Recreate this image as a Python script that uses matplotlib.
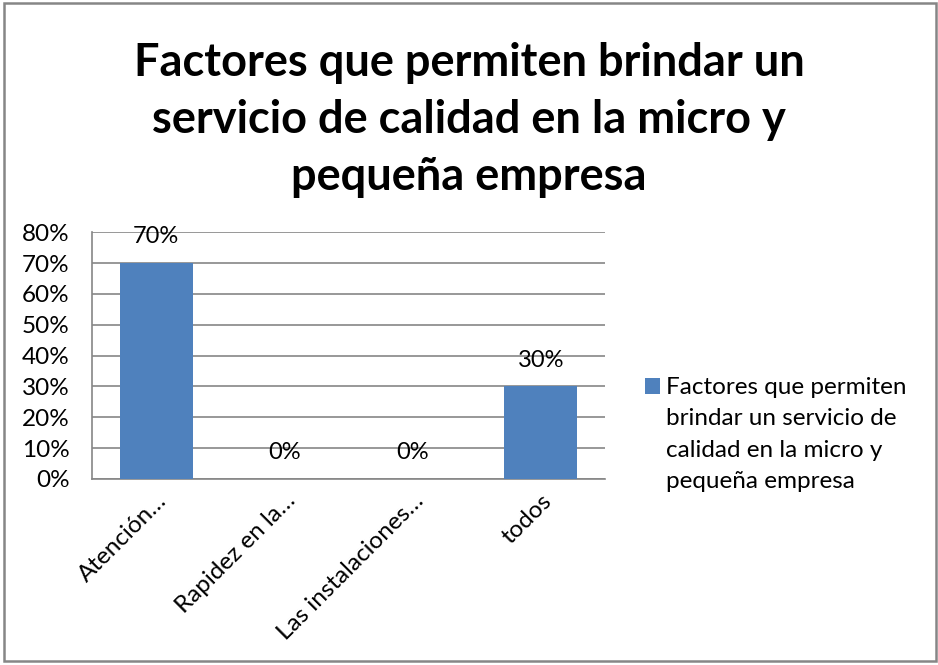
import matplotlib
matplotlib.use("Agg")
import matplotlib.pyplot as plt
from matplotlib.patches import Rectangle
from matplotlib.legend_handler import HandlerPatch

categories = ["Atención…", "Rapidez en la…", "Las instalaciones…", "todos"]
values = [70, 0, 0, 30]
yticks = [0, 10, 20, 30, 40, 50, 60, 70, 80]
series_name = "Factores que permiten\nbrindar un servicio de\ncalidad en la micro y\npequeña empresa"
title = "Factores que permiten brindar un\nservicio de calidad en la micro y\npequeña empresa"

plt.rcParams["font.family"] = ["Lato", "DejaVu Sans"]

fig = plt.figure(figsize=(9.38, 6.65), dpi=100)
ax = fig.add_axes([0.098, 0.2797, 0.547, 0.371])

x = range(len(categories))
bars = ax.bar(x, values, width=0.57, color="#4F81BD", zorder=3)
for xi, v in zip(x, values):
    ax.annotate(f"{v}%", (xi, v), xytext=(0, 19), textcoords="offset points",
                ha="center", va="center", fontsize=17, zorder=4)

ax.set_xlim(-0.5, 3.5)
ax.set_ylim(0, 80)
ax.set_yticks(yticks)
ax.set_yticklabels([f"{t}%" for t in yticks], fontsize=17.5)
ax.set_xticks(list(x))
ax.set_xticklabels(categories, rotation=45, ha="right", rotation_mode="anchor", fontsize=17.5)
ax.tick_params(axis="y", length=0, pad=16)
ax.tick_params(axis="x", length=0, pad=8)
ax.yaxis.grid(True, color="#868686", linewidth=1.2, zorder=0)
for side in ["top", "right"]:
    ax.spines[side].set_visible(False)
ax.spines["left"].set_color("#868686")
ax.spines["bottom"].set_color("#868686")
ax.spines["left"].set_linewidth(1.2)
ax.spines["bottom"].set_linewidth(1.2)

fig.suptitle(title, fontsize=32.5, fontweight="bold", x=0.5, y=0.8196, va="center",
             linespacing=1.45)


def top_square(legend, orig_handle, xdescent, ydescent, width, height, fontsize):
    # put the marker next to the first line of the wrapped label
    return Rectangle((-xdescent, -ydescent + 35), width, height)


handle = bars.patches[0]
ax.legend([handle], [series_name], loc="center left", bbox_to_anchor=(1.078, 0.18),
          frameon=False, fontsize=17.5, handlelength=0.63, handleheight=0.63,
          handletextpad=0.25, borderpad=0, borderaxespad=0,
          handler_map={handle: HandlerPatch(patch_func=top_square)})
for t in ax.get_legend().get_texts():
    t.set_linespacing(1.6)

# outer chart border
fig.patches.append(Rectangle((0.0045, 0.006), 0.9935, 0.989, transform=fig.transFigure,
                             fill=False, edgecolor="#868686", linewidth=1.8))

fig.savefig("out.png", dpi=100)
